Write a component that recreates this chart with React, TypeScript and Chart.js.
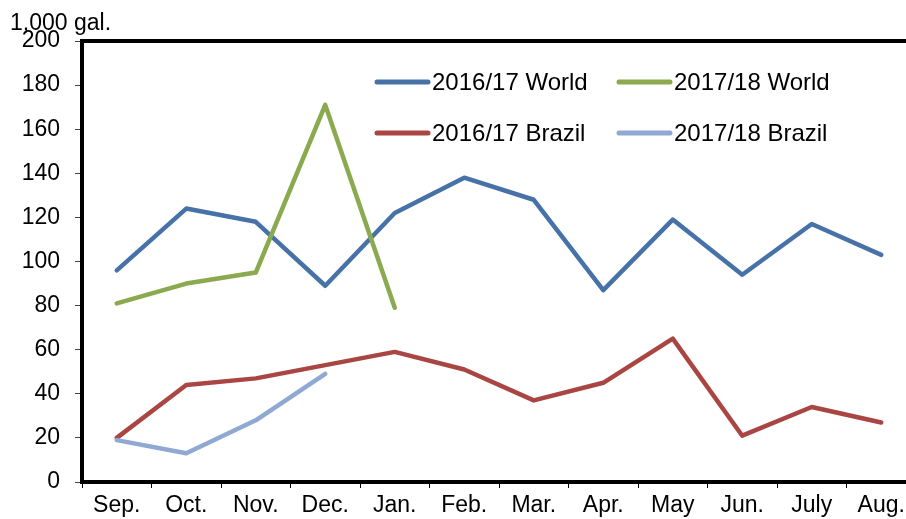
import React, { useEffect, useRef } from "react";
import { Chart, registerables } from "chart.js";

Chart.register(...registerables);

const months = ["Sep.", "Oct.", "Nov.", "Dec.", "Jan.", "Feb.", "Mar.", "Apr.", "May", "Jun.", "July", "Aug."];

const world1617 = [96, 124, 118, 89, 122, 138, 128, 87, 119, 94, 117, 103];
const world1718 = [81, 90, 95, 171, 79];
const brazil1617 = [20, 44, 47, 53, 59, 51, 37, 45, 65, 21, 34, 27];
const brazil1718 = [19, 13, 28, 49];

const seriesLabels = ["2016/17 World", "2017/18 World", "2016/17 Brazil", "2017/18 Brazil"];
const seriesColors = ["#4672A8", "#8BA94E", "#A94643", "#8FA9D2"];

const yTicks = [0, 20, 40, 60, 80, 100, 120, 140, 160, 180, 200];
const unitLabel = "1,000 gal.";

const FONT = "Arial, 'Liberation Sans', sans-serif";

// Frame around the plot area plus the unit caption above the value axis
const framePlugin = {
  id: "frame",
  afterDraw(chart: any) {
    const { ctx, chartArea } = chart;
    ctx.save();
    ctx.strokeStyle = "#000";
    ctx.lineWidth = 4;
    ctx.strokeRect(chartArea.left, chartArea.top, chartArea.right - chartArea.left, chartArea.bottom - chartArea.top);
    ctx.fillStyle = "#000";
    ctx.font = `23px ${FONT}`;
    ctx.textAlign = "left";
    ctx.textBaseline = "alphabetic";
    ctx.fillText(unitLabel, 10, 30);
    ctx.restore();
  },
};

// Two-column legend drawn inside the plot area
const legendPlugin = {
  id: "insideLegend",
  afterDatasetsDraw(chart: any) {
    const { ctx } = chart;
    const cols = [375, 617];
    const rows = [82, 133];
    ctx.save();
    chart.data.datasets.forEach((ds: any, i: number) => {
      const x = cols[i % 2];
      const y = rows[Math.floor(i / 2)];
      ctx.strokeStyle = ds.borderColor;
      ctx.lineWidth = 5;
      ctx.lineCap = "round";
      ctx.beginPath();
      ctx.moveTo(x + 2, y);
      ctx.lineTo(x + 53, y);
      ctx.stroke();
      ctx.fillStyle = "#000";
      ctx.font = `24px ${FONT}`;
      ctx.textBaseline = "middle";
      ctx.textAlign = "left";
      ctx.fillText(ds.label, x + 57, y + 1);
    });
    ctx.restore();
  },
};

export default function App() {
  const ref = useRef<HTMLCanvasElement | null>(null);

  useEffect(() => {
    if (!ref.current) return;
    const series = [world1617, world1718, brazil1617, brazil1718];
    const chart = new Chart(ref.current, {
      type: "line",
      data: {
        labels: months,
        datasets: series.map((values, i) => ({
          label: seriesLabels[i],
          data: values,
          borderColor: seriesColors[i],
          backgroundColor: seriesColors[i],
          borderWidth: 4.5,
          pointRadius: 0,
          tension: 0,
          borderJoinStyle: "round" as const,
          borderCapStyle: "round" as const,
          fill: false,
          order: 3 - i,
        })),
      },
      options: {
        responsive: false,
        animation: false,
        devicePixelRatio: 1,
        layout: { padding: { top: 41, right: 14, bottom: 0, left: 0 } },
        plugins: {
          legend: { display: false },
          tooltip: { enabled: false },
          title: { display: false },
        },
        scales: {
          x: {
            offset: true,
            grid: {
              offset: true,
              display: true,
              drawOnChartArea: false,
              drawTicks: true,
              tickLength: 6,
              color: "#000",
              lineWidth: 1,
            },
            border: { display: false },
            ticks: {
              color: "#000",
              font: { family: FONT, size: 23 },
              padding: 4,
              maxRotation: 0,
              autoSkip: false,
            },
            afterFit(scale: any) {
              scale.height = 37;
            },
          },
          y: {
            min: 0,
            max: 200,
            afterBuildTicks(scale: any) {
              scale.ticks = yTicks.map((v) => ({ value: v }));
            },
            grid: {
              display: true,
              drawOnChartArea: false,
              drawTicks: true,
              tickLength: 7,
              color: "#444",
              lineWidth: 1,
            },
            border: { display: false },
            ticks: {
              color: "#000",
              font: { family: FONT, size: 23 },
              padding: 15,
            },
            afterFit(scale: any) {
              scale.width = 82;
            },
          },
        },
      },
      plugins: [framePlugin, legendPlugin],
    });
    return () => chart.destroy();
  }, []);

  return (
    <div
      style={{
        position: "fixed",
        left: 0,
        top: 0,
        width: 906,
        height: 519,
        overflow: "hidden",
        background: "#fff",
      }}
    >
      <canvas ref={ref} width={930} height={519} style={{ display: "block" }} />
    </div>
  );
}
